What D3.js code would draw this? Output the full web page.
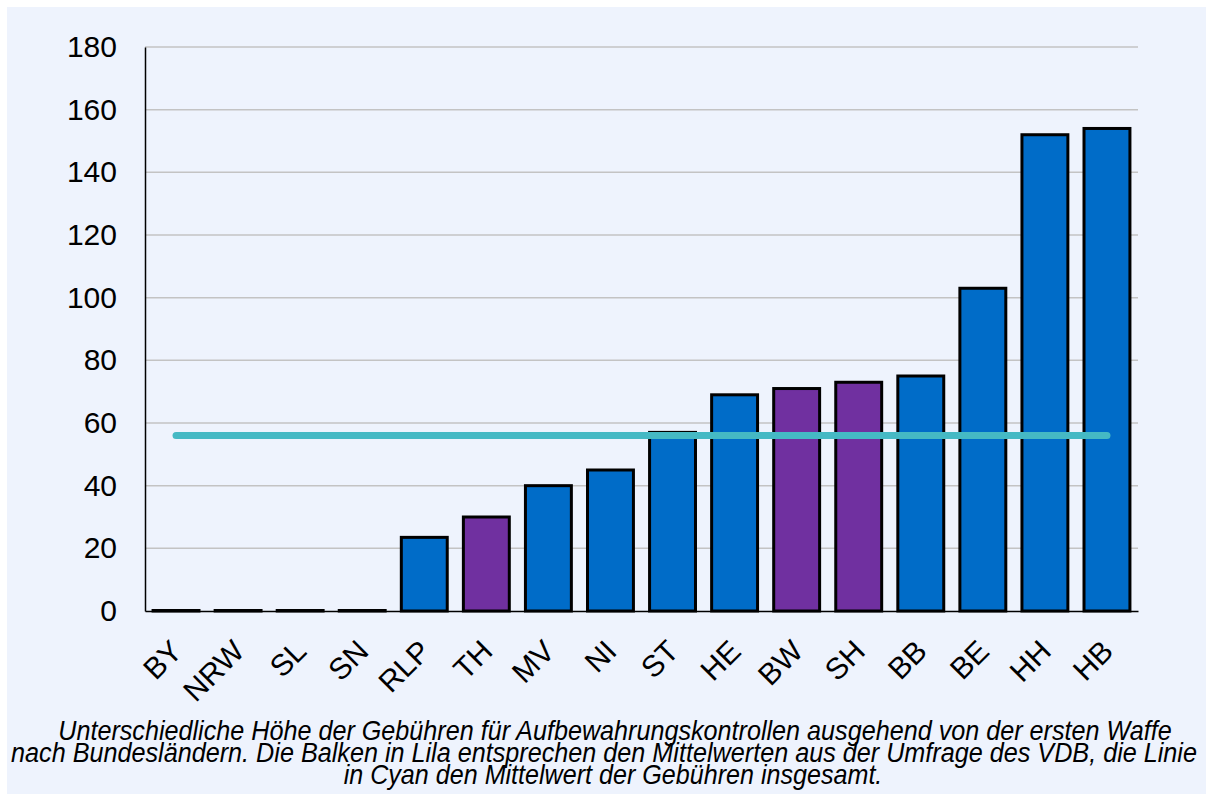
<!DOCTYPE html>
<html><head><meta charset="utf-8">
<script src="https://cdn.jsdelivr.net/npm/d3@7"></script>
<style>html,body{margin:0;padding:0;background:#fff;}svg{display:block;}</style>
</head><body>
<script>
const categories = ["BY","NRW","SL","SN","RLP","TH","MV","NI","ST","HE","BW","SH","BB","BE","HH","HB"];
const values = [0,0,0,0,23.5,30,40,45,57,69,71,73,75,103,152,154];
const survey = [false,false,false,false,false,true,false,false,false,false,true,true,false,false,false,false];
const meanValue = 56;
const yTicks = [0,20,40,60,80,100,120,140,160,180];
const captionLines = [
  "Unterschiedliche Höhe der Gebühren für Aufbewahrungskontrollen ausgehend von der ersten Waffe",
  "nach Bundesländern. Die Balken in Lila entsprechen den Mittelwerten aus der Umfrage des VDB, die Linie",
  "in Cyan den Mittelwert der Gebühren insgesamt."
];

(function(){
const W = 1206, H = 796;
const svg = d3.select("body").append("svg").attr("width", W).attr("height", H);
svg.append("rect").attr("x",7).attr("y",7).attr("width",W-7).attr("height",H-9).attr("fill","#eef3fd");

const mL = 145, mR = 1138, mT = 47, mB = 611;
const x = d3.scaleBand().domain(categories).range([mL, mR]).paddingInner(0.26).paddingOuter(0.13);
const y = d3.scaleLinear().domain([0,180]).range([mB, mT]);

// grid
svg.append("g").selectAll("line").data(yTicks.filter(d=>d>0)).join("line")
  .attr("x1", mL).attr("x2", mR)
  .attr("y1", d=>y(d)).attr("y2", d=>y(d))
  .attr("stroke","#c3c3c3").attr("stroke-width",1.5);

// y axis
const yAxis = d3.axisLeft(y).tickValues(yTicks).tickSize(0).tickPadding(28);
const gy = svg.append("g").attr("transform",`translate(${mL},0)`).call(yAxis);
gy.select(".domain").attr("stroke","#000").attr("stroke-width",1.5);
gy.selectAll("text").attr("font-family","'Liberation Sans', Arial, sans-serif").attr("font-size",30).attr("fill","#000");

// x axis
const xAxis = d3.axisBottom(x).tickSize(0).tickPadding(0);
const gx = svg.append("g").attr("transform",`translate(0,${mB})`).call(xAxis);
gx.select(".domain").attr("stroke","#000").attr("stroke-width",1.5);
gx.selectAll("text")
  .attr("font-family","'Liberation Sans', Arial, sans-serif").attr("font-size",30).attr("fill","#000")
  .attr("text-anchor","end").attr("dy",0).attr("y",0)
  .attr("transform", "translate(8,42) rotate(-45)");

// bars (zero values drawn as a flat outlined bar)
svg.append("g").selectAll("rect").data(categories).join("rect")
  .attr("x", d=>x(d)).attr("width", x.bandwidth())
  .attr("y", (d,i)=>Math.min(y(values[i]), y(0)-0.5)).attr("height",(d,i)=>Math.max(y(0)-y(values[i]), 0.5))
  .attr("fill",(d,i)=>survey[i] ? "#7030a0" : "#006cc8")
  .attr("stroke","#000").attr("stroke-width",3);

// mean line
svg.append("line")
  .attr("x1", x(categories[0]) + x.bandwidth()/2)
  .attr("x2", x(categories[categories.length-1]) + x.bandwidth()/2)
  .attr("y1", y(meanValue)).attr("y2", y(meanValue))
  .attr("stroke","#45b9c4").attr("stroke-width",7).attr("stroke-linecap","round");

// caption: condensed look via horizontal scaling to the reference widths
const capX = [615, 604, 613];
const capW = [1114, 1186, 539];
svg.append("g").selectAll("text").data(captionLines).join("text")
  .attr("x",0).attr("y",0)
  .attr("text-anchor","middle")
  .attr("font-family","'Liberation Sans', Arial, sans-serif")
  .attr("font-style","italic").attr("font-size",27).attr("fill","#000")
  .text(d=>d)
  .each(function(d,i){
    const nat = this.getComputedTextLength();
    d3.select(this).attr("transform",`translate(${capX[i]},${740 + i*22}) scale(${capW[i]/nat},1)`);
  });
})();
</script>
</body></html>
